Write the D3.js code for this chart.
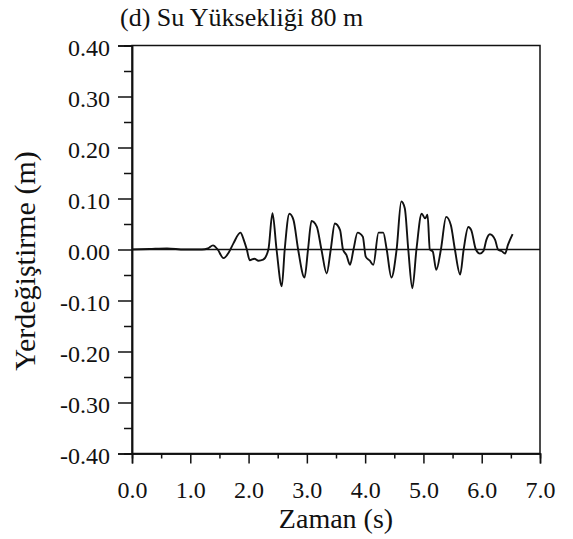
<!DOCTYPE html>
<html><head><meta charset="utf-8">
<script src="https://cdn.jsdelivr.net/npm/d3@7"></script>
<style>
body{margin:0;background:#fff}
svg{display:block}
</style>
</head><body>
<svg id="chart" width="573" height="539"></svg>
<script>
const title = "(d) Su Yüksekliği 80 m";
const xLabel = "Zaman (s)";
const yLabel = "Yerdeğiştirme (m)";
const xTicks = [0, 1, 2, 3, 4, 5, 6, 7];
const yTicks = [0.4, 0.3, 0.2, 0.1, 0, -0.1, -0.2, -0.3, -0.4];
const xMinor = [0.5, 1.5, 2.5, 3.5, 4.5, 5.5, 6.5];
const yMinor = [0.35, 0.25, 0.15, 0.05, -0.05, -0.15, -0.25, -0.35];

const time = [0.00, 0.30, 0.60, 0.90, 1.20, 1.30, 1.39, 1.47, 1.57, 1.66, 1.74, 1.86, 1.92, 1.97, 2.02, 2.10, 2.17, 2.25, 2.34, 2.41, 2.48, 2.57, 2.62, 2.70, 2.77, 2.85, 2.96, 3.02, 3.08, 3.17, 3.25, 3.34, 3.41, 3.48, 3.57, 3.62, 3.68, 3.74, 3.80, 3.87, 3.96, 4.01, 4.08, 4.14, 4.23, 4.31, 4.37, 4.45, 4.54, 4.62, 4.68, 4.74, 4.81, 4.88, 4.97, 5.03, 5.07, 5.11, 5.16, 5.22, 5.30, 5.39, 5.47, 5.54, 5.63, 5.69, 5.77, 5.82, 5.90, 5.97, 6.03, 6.08, 6.14, 6.23, 6.28, 6.34, 6.40, 6.45, 6.53];
const disp = [0.000, 0.001, 0.002, 0.000, 0.000, 0.002, 0.008, 0.000, -0.017, -0.006, 0.012, 0.033, 0.018, 0.000, -0.021, -0.018, -0.022, -0.020, 0.000, 0.071, 0.000, -0.072, 0.000, 0.070, 0.058, 0.000, -0.055, 0.000, 0.056, 0.045, 0.000, -0.047, 0.000, 0.051, 0.038, 0.000, -0.011, -0.030, 0.000, 0.033, 0.025, -0.014, -0.022, -0.030, 0.033, 0.033, 0.000, -0.055, 0.000, 0.094, 0.081, 0.000, -0.076, 0.000, 0.070, 0.061, 0.068, 0.000, -0.004, -0.040, 0.000, 0.064, 0.048, 0.000, -0.049, 0.000, 0.044, 0.038, 0.000, -0.008, -0.003, 0.019, 0.030, 0.019, 0.000, -0.003, -0.008, 0.009, 0.030];

const FONT = "'Liberation Serif', 'Times New Roman', Tinos, 'DejaVu Serif', serif";
const svg = d3.select("#chart");
const L = 132, R = 540, T = 45.5, B = 453.5;
const x = d3.scaleLinear().domain([0, 7]).range([L, R]);
const y = d3.scaleLinear().domain([-0.4, 0.4]).range([B, T]);

// frame
svg.append("rect").attr("x", L).attr("y", T).attr("width", R - L).attr("height", B - T)
  .attr("fill", "none").attr("stroke", "#111").attr("stroke-width", 1.5);

// zero line
svg.append("line").attr("x1", x(0)).attr("x2", x(7)).attr("y1", y(0)).attr("y2", y(0))
  .attr("stroke", "#111").attr("stroke-width", 1.3);

// y axis
const yAx = svg.append("g").attr("transform", `translate(${L},0)`)
  .call(d3.axisLeft(y).tickValues(yTicks).tickSize(14).tickPadding(8).tickFormat(d => d.toFixed(2)));
svg.append("g").attr("transform", `translate(${L},0)`)
  .call(d3.axisLeft(y).tickValues(yMinor).tickSize(8).tickFormat(""));
// x axis
svg.append("g").attr("transform", `translate(0,${B})`)
  .call(d3.axisBottom(x).tickValues(xTicks).tickSize(10).tickPadding(17).tickFormat(d => d.toFixed(1)));
svg.append("g").attr("transform", `translate(0,${B})`)
  .call(d3.axisBottom(x).tickValues(xMinor).tickSize(5).tickFormat(""));

svg.selectAll("g").attr("font-family", null).attr("font-size", null);
svg.selectAll(".domain").attr("stroke", "#111").attr("stroke-width", 1.5);
svg.selectAll(".tick line").attr("stroke", "#111").attr("stroke-width", 1.5);
svg.selectAll(".tick text").style("font-family", FONT).style("font-size", "24px").attr("fill", "#111");
yAx.selectAll(".tick text").attr("dy", "0.42em");

// data line
svg.append("path")
  .datum(time.map((t, i) => [t, disp[i]]))
  .attr("fill", "none").attr("stroke", "#111").attr("stroke-width", 1.9)
  .attr("stroke-linejoin", "round")
  .attr("d", d3.line().x(d => x(d[0])).y(d => y(d[1])).curve(d3.curveMonotoneX));

// title
svg.append("text").attr("x", 120).attr("y", 26).style("font-family", FONT).style("font-size", "26px")
  .attr("fill", "#111").text(title);
// x label
svg.append("text").attr("x", (L + R) / 2).attr("y", 528).attr("text-anchor", "middle")
  .style("font-family", FONT).style("font-size", "28px").attr("fill", "#111").text(xLabel);
// y label
svg.append("text").attr("transform", `translate(35,${261}) rotate(-90)`).attr("text-anchor", "middle")
  .style("font-family", FONT).style("font-size", "30px").attr("fill", "#111").text(yLabel);
</script>
</body></html>
